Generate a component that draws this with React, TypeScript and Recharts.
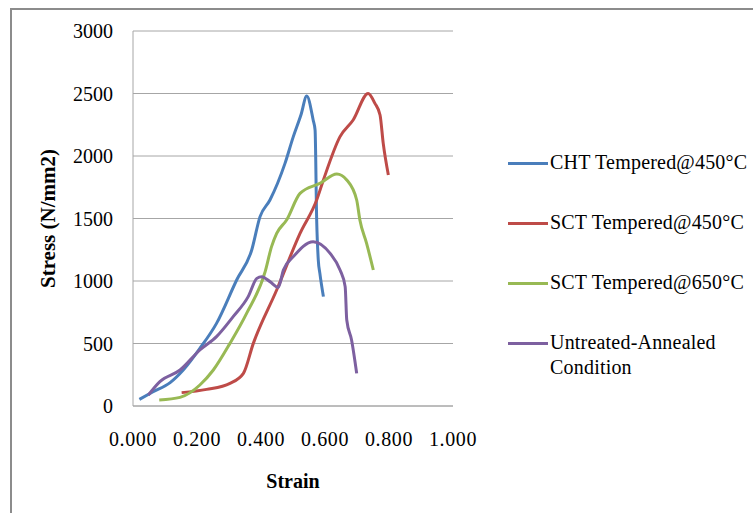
import React from 'react';
import { LineChart, Line, XAxis, YAxis, CartesianGrid, Label } from 'recharts';

// strain / stress pairs
const chtStrain = [0.02, 0.06, 0.116, 0.157, 0.209, 0.261, 0.324, 0.371, 0.397, 0.428, 0.475, 0.501, 0.525, 0.543, 0.563, 0.569, 0.574, 0.579, 0.584, 0.595];
const chtStress = [53, 110, 187, 288, 461, 661, 1008, 1248, 1515, 1648, 1941, 2155, 2330, 2480, 2288, 2208, 1488, 1168, 1061, 875];

const sct450Strain = [0.152, 0.23, 0.303, 0.345, 0.376, 0.449, 0.522, 0.574, 0.595, 0.647, 0.688, 0.735, 0.756, 0.772, 0.782, 0.798];
const sct450Stress = [107, 133, 181, 261, 501, 928, 1381, 1648, 1808, 2155, 2288, 2501, 2421, 2328, 2101, 1848];

const sct650Strain = [0.082, 0.147, 0.209, 0.251, 0.303, 0.355, 0.413, 0.433, 0.449, 0.48, 0.522, 0.584, 0.637, 0.668, 0.699, 0.709, 0.73, 0.751];
const sct650Stress = [48, 69, 168, 288, 501, 741, 1075, 1275, 1381, 1488, 1701, 1781, 1856, 1808, 1648, 1488, 1301, 1088];

const annealStrain = [0.048, 0.084, 0.147, 0.209, 0.261, 0.313, 0.36, 0.387, 0.402, 0.428, 0.454, 0.47, 0.501, 0.563, 0.616, 0.647, 0.663, 0.668, 0.683, 0.699];
const annealStress = [88, 195, 288, 448, 555, 715, 875, 1021, 1035, 995, 949, 1088, 1195, 1315, 1221, 1088, 955, 688, 528, 261];

const xTicks = [0, 0.2, 0.4, 0.6, 0.8, 1.0];
const yTicks = [0, 500, 1000, 1500, 2000, 2500, 3000];

const toPoints = (xs: number[], ys: number[]) => xs.map((x, i) => ({ strain: x, stress: ys[i] }));

const series = [
  { name: 'CHT Tempered@450°C', color: '#4a7ebb', data: toPoints(chtStrain, chtStress) },
  { name: 'SCT Tempered@450°C', color: '#be4b48', data: toPoints(sct450Strain, sct450Stress) },
  { name: 'SCT Tempered@650°C', color: '#98b954', data: toPoints(sct650Strain, sct650Stress) },
  { name: 'Untreated-Annealed Condition', color: '#7d60a0', data: toPoints(annealStrain, annealStress) },
];

const font = '"Liberation Serif", "Times New Roman", serif';

const App: React.FC = () => {
  return (
    <div style={{ position: 'fixed', left: 0, top: 0, width: 753, height: 513, overflow: 'hidden', background: '#fff', fontFamily: font }}>
      <div style={{ position: 'absolute', left: 10, top: 8, width: 800, height: 600, border: '2px solid #8c8c8c' }} />
      <div style={{ position: 'absolute', left: 0, top: 0 }}>
        <LineChart width={753} height={513} margin={{ top: 31, right: 300, bottom: 47, left: 73 }}>
          <CartesianGrid vertical={false} stroke="#a6a6a6" />
          <XAxis
            type="number"
            dataKey="strain"
            domain={[0, 1]}
            ticks={xTicks}
            tickFormatter={(v: number) => v.toFixed(3)}
            stroke="#a6a6a6"
            tickLine={false}
            tickSize={0}
            tickMargin={26}
            height={60}
            tick={{ fill: '#000', fontSize: 20, fontFamily: font, letterSpacing: 0.6 }}
          >
            <Label value="Strain" position="insideBottom" offset={-22} style={{ fontWeight: 'bold', fontSize: 20, fill: '#000', fontFamily: font }} />
          </XAxis>
          <YAxis
            type="number"
            dataKey="stress"
            domain={[0, 3000]}
            ticks={yTicks}
            stroke="#a6a6a6"
            tickLine={false}
            tickSize={0}
            tickMargin={20}
            width={60}
            tick={{ fill: '#000', fontSize: 20, fontFamily: font }}
          >
            <Label value="Stress (N/mm2)" angle={-90} position="left" offset={25} style={{ fontWeight: 'bold', fontSize: 21, fill: '#000', fontFamily: font, textAnchor: 'middle' }} />
          </YAxis>
          {series.map(s => (
            <Line
              key={s.name}
              data={s.data}
              dataKey="stress"
              name={s.name}
              type="monotone"
              stroke={s.color}
              strokeWidth={3}
              dot={false}
              isAnimationActive={false}
            />
          ))}
        </LineChart>
      </div>
      <div style={{ position: 'absolute', left: 508, top: 150 }}>
        {series.map((s, i) => (
          <div key={s.name} style={{ position: 'absolute', top: i * 60, left: 0, display: 'flex', alignItems: 'flex-start' }}>
            <div style={{ width: 40, height: 3, background: s.color, marginTop: 12, marginRight: 2 }} />
            <div style={{ fontSize: 20, lineHeight: '25px', color: '#000', width: 203, letterSpacing: 0.2 }}>{s.name}</div>
          </div>
        ))}
      </div>
    </div>
  );
};

export default App;
